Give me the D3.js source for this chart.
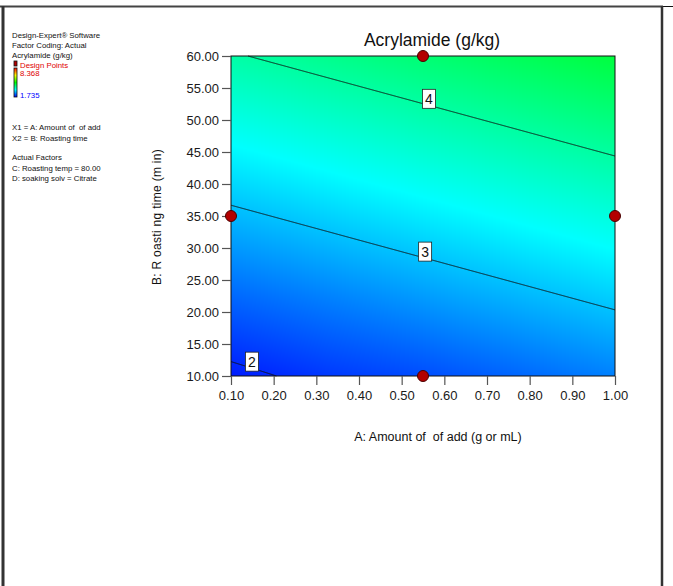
<!DOCTYPE html>
<html><head><meta charset="utf-8">
<script src="https://cdn.jsdelivr.net/npm/d3@7"></script>
<style>
body{margin:0;background:#fff}
svg{display:block}
text{font-family:"Liberation Sans",Arial,sans-serif}
</style>
</head><body>
<svg id="chart" width="673" height="586"></svg>
<script>
// Factor levels of the response grid (A: amount of additive, B: roasting time)
const amountLevels = [0.10, 0.325, 0.55, 0.775, 1.00];
const timeLevels = [10, 22.5, 35, 47.5, 60];
// Predicted acrylamide (g/kg); rows follow timeLevels, columns follow amountLevels
const acrylamide = [
  [1.91, 2.10, 2.23, 2.40, 2.57],
  [2.41, 2.58, 2.75, 2.92, 3.09],
  [2.93, 3.10, 3.27, 3.44, 3.61],
  [3.45, 3.62, 3.79, 3.96, 4.13],
  [3.97, 4.14, 4.31, 4.48, 4.65]
];
const contourLevels = [2, 3, 4];
const contourLabelAmount = [0.149, 0.555, 0.564];
// Design points in this slice
const designAmount = [0.55, 0.10, 1.00, 0.55];
const designTime = [60, 35, 35, 10];
const responseRange = [1.735, 8.368];
const xTicks = [0.10, 0.20, 0.30, 0.40, 0.50, 0.60, 0.70, 0.80, 0.90, 1.00];
const yTicks = [10, 15, 20, 25, 30, 35, 40, 45, 50, 55, 60];
const infoLines = [
  "Design-Expert\u00ae Software",
  "Factor Coding: Actual",
  "Acrylamide (g/kg)"
];
const factorLines = ["X1 = A: Amount of\u00a0 of add", "X2 = B: Roasting time"];
const actualLines = ["Actual Factors", "C: Roasting temp = 80.00", "D: soaking solv = Citrate"];

const svg = d3.select("#chart");
const plot = {left: 231, right: 615, top: 56, bottom: 376};

const x = d3.scaleLinear().domain([0.1, 1.0]).range([plot.left, plot.right]);
const y = d3.scaleLinear().domain([10, 60]).range([plot.bottom, plot.top]);

const [lo, hi] = responseRange;
const span = hi - lo;
const color = d3.scaleLinear()
  .domain([lo, lo + 0.25 * span, lo + 0.5 * span, lo + 0.75 * span, hi])
  .range(["#0000ff", "#00ffff", "#00ff00", "#ffff00", "#ff0000"])
  .clamp(true);

// Bilinear lookup in the response grid
function cellIndex(levels, v) {
  let i = d3.bisectRight(levels, v) - 1;
  return Math.max(0, Math.min(levels.length - 2, i));
}
function response(a, b) {
  const i = cellIndex(amountLevels, a), j = cellIndex(timeLevels, b);
  const ta = (a - amountLevels[i]) / (amountLevels[i + 1] - amountLevels[i]);
  const tb = (b - timeLevels[j]) / (timeLevels[j + 1] - timeLevels[j]);
  const v00 = acrylamide[j][i], v10 = acrylamide[j][i + 1];
  const v01 = acrylamide[j + 1][i], v11 = acrylamide[j + 1][i + 1];
  return (v00 * (1 - ta) + v10 * ta) * (1 - tb) + (v01 * (1 - ta) + v11 * ta) * tb;
}

// Colour-filled surface, rendered pixel by pixel into an image
const pw = plot.right - plot.left, ph = plot.bottom - plot.top;
const cnv = document.createElement("canvas");
cnv.width = pw; cnv.height = ph;
const ctx = cnv.getContext("2d");
const img = ctx.createImageData(pw, ph);
for (let py = 0; py < ph; py++) {
  const b = y.invert(plot.top + py + 0.5);
  for (let px = 0; px < pw; px++) {
    const a = x.invert(plot.left + px + 0.5);
    const c = d3.rgb(color(response(a, b)));
    const k = (py * pw + px) * 4;
    img.data[k] = c.r; img.data[k + 1] = c.g; img.data[k + 2] = c.b; img.data[k + 3] = 255;
  }
}
ctx.putImageData(img, 0, 0);
svg.append("image")
  .attr("x", plot.left).attr("y", plot.top)
  .attr("width", pw).attr("height", ph)
  .attr("href", cnv.toDataURL());

// Isolines: for each amount, find the roasting time where the response equals the level
function timeAt(a, level) {
  const col = timeLevels.map(b => response(a, b));
  for (let j = 0; j < col.length - 1; j++) {
    const g0 = col[j], g1 = col[j + 1];
    if ((g0 - level) * (g1 - level) <= 0 && g0 !== g1) {
      return timeLevels[j] + (level - g0) / (g1 - g0) * (timeLevels[j + 1] - timeLevels[j]);
    }
  }
  return null;
}
const line = d3.line().defined(d => d.b !== null).x(d => x(d.a)).y(d => y(d.b));
const steps = d3.range(0, 1441).map(k => 0.1 + k * 0.9 / 1440);
const contourG = svg.append("g");
contourLevels.forEach((level, idx) => {
  const pts = steps.map(a => ({a, b: timeAt(a, level)}));
  contourG.append("path")
    .attr("d", line(pts))
    .attr("fill", "none")
    .attr("stroke", "#111")
    .attr("stroke-width", 1);
  const la = contourLabelAmount[idx];
  const lb = timeAt(la, level);
  const cx = x(la), cy = y(lb);
  const g = contourG.append("g");
  g.append("rect")
    .attr("x", cx - 6.5).attr("y", cy - 16)
    .attr("width", 13).attr("height", 19)
    .attr("fill", "#fff").attr("stroke", "#222").attr("stroke-width", 0.8);
  g.append("text")
    .attr("x", cx).attr("y", cy - 1)
    .attr("text-anchor", "middle")
    .attr("font-size", 14)
    .attr("fill", "#111")
    .text(level);
});

// Plot frame
svg.append("rect")
  .attr("x", plot.left).attr("y", plot.top)
  .attr("width", pw).attr("height", ph)
  .attr("fill", "none").attr("stroke", "#111").attr("stroke-width", 1);

// Axes
const fmt = d3.format(".2f");
const yAxis = svg.append("g")
  .attr("transform", `translate(${plot.left},0)`)
  .call(d3.axisLeft(y).tickValues(yTicks).tickFormat(fmt).tickSize(9).tickPadding(3));
const xAxis = svg.append("g")
  .attr("transform", `translate(0,${plot.bottom})`)
  .call(d3.axisBottom(x).tickValues(xTicks).tickFormat(fmt).tickSize(9).tickPadding(6));
[yAxis, xAxis].forEach(ax => {
  ax.select(".domain").remove();
  ax.selectAll(".tick line").attr("stroke", "#555").attr("stroke-width", 1.2);
  ax.selectAll(".tick text")
    .attr("font-size", 13)
    .attr("fill", "#1a1a1a")
    .style("font-family", '"Liberation Sans",Arial,sans-serif');
});

// Design points
svg.append("g").selectAll("circle")
  .data(designAmount.map((a, i) => ({a, b: designTime[i]})))
  .join("circle")
  .attr("cx", d => x(d.a)).attr("cy", d => y(d.b))
  .attr("r", 5.5)
  .attr("fill", "#b30000")
  .attr("stroke", "#4a0000").attr("stroke-width", 1);

// Title and axis titles
svg.append("text")
  .attr("x", 432).attr("y", 46)
  .attr("text-anchor", "middle")
  .attr("font-size", 17.5)
  .attr("fill", "#111")
  .text("Acrylamide (g/kg)");
svg.append("text")
  .attr("x", 438).attr("y", 441)
  .attr("text-anchor", "middle")
  .attr("font-size", 12.5)
  .attr("fill", "#111")
  .text("A: Amount of\u00a0 of add (g or mL)");
svg.append("text")
  .attr("transform", "translate(161,217) rotate(-90)")
  .attr("text-anchor", "middle")
  .attr("font-size", 12)
  .attr("letter-spacing", 0.3)
  .attr("fill", "#111")
  .text("B: R oasti ng time (m in)");

// Side information panel
const info = svg.append("g").attr("font-size", 7.8).attr("fill", "#111");
infoLines.forEach((s, i) => info.append("text").attr("x", 12).attr("y", 37.5 + i * 10).text(s));
factorLines.forEach((s, i) => info.append("text").attr("x", 12).attr("y", 130 + i * 11).text(s));
actualLines.forEach((s, i) => info.append("text").attr("x", 12).attr("y", 160 + i * 10.5).text(s));
info.append("text").attr("x", 20).attr("y", 68.3).attr("fill", "#e00000").text("Design Points");
info.append("text").attr("x", 20).attr("y", 76.3).attr("fill", "#e00000").text(d3.format(".3f")(hi));
info.append("text").attr("x", 20).attr("y", 98).attr("fill", "#0000ff").text(d3.format(".3f")(lo));

// Colour bar
const defs = svg.append("defs");
const grad = defs.append("linearGradient").attr("id", "bar")
  .attr("x1", 0).attr("y1", 1).attr("x2", 0).attr("y2", 0);
color.domain().forEach(v => grad.append("stop")
  .attr("offset", (v - lo) / span).attr("stop-color", color(v)));
svg.append("rect").attr("x", 14).attr("y", 61).attr("width", 3).attr("height", 5)
  .attr("fill", "#b30000").attr("stroke", "#111").attr("stroke-width", 0.8);
svg.append("rect").attr("x", 14).attr("y", 68).attr("width", 3).attr("height", 29)
  .attr("fill", "url(#bar)").attr("stroke", "#111").attr("stroke-width", 0.8);

// Outer frame
svg.append("line").attr("x1", 0).attr("y1", 6.5).attr("x2", 663).attr("y2", 6.5)
  .attr("stroke", "#444").attr("stroke-width", 2);
svg.append("line").attr("x1", 663).attr("y1", 6.5).attr("x2", 673).attr("y2", 6.5)
  .attr("stroke", "#111").attr("stroke-width", 1);
svg.append("line").attr("x1", 3).attr("y1", 6).attr("x2", 3).attr("y2", 586)
  .attr("stroke", "#333").attr("stroke-width", 3);
svg.append("line").attr("x1", 662).attr("y1", 6).attr("x2", 662).attr("y2", 586)
  .attr("stroke", "#333").attr("stroke-width", 2.5);
</script>
</body></html>
